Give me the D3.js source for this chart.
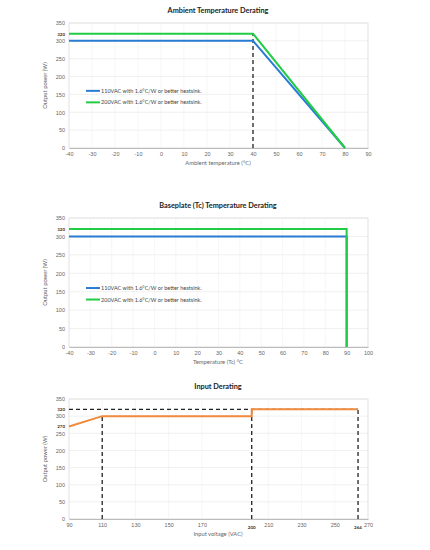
<!DOCTYPE html>
<html><head><meta charset="utf-8">
<script src="https://cdn.jsdelivr.net/npm/d3@7"></script>
<style>body{margin:0;background:#fff;font-family:Lato,"Open Sans",sans-serif}</style>
</head><body><svg id="c" width="430" height="550"></svg>
<script>
var yTicks = [0, 50, 100, 150, 200, 250, 300, 350];
var ambientX = [-40, 40, 80];
var ambient110 = [300, 300, 0];
var ambient200 = [320, 320, 0];
var ambientTicks = [-40, -30, -20, -10, 0, 10, 20, 30, 40, 50, 60, 70, 80, 90];
var baseX = [-40, 90, 90];
var base110 = [300, 300, 0];
var base200 = [320, 320, 0];
var baseTicks = [-40, -30, -20, -10, 0, 10, 20, 30, 40, 50, 60, 70, 80, 90, 100];
var inputX = [90, 110, 200, 200, 264];
var inputP = [270, 300, 300, 320, 320];
var inputTicks = [90, 110, 130, 150, 170, 190, 210, 230, 250, 270];
var legendLabels = ["110VAC with 1.6°C/W or better heatsink.", "200VAC with 1.6°C/W or better heatsink."];

var svg = d3.select("#c");
var blue = "#2a7bd4", green = "#22cc44", orange = "#f08a3c";

function chart(o) {
  var x = d3.scaleLinear().domain(o.xd).range([69, 368]);
  var y = d3.scaleLinear().domain([0, 350]).range([o.bottom, o.top]);
  var g = svg.append("g");
  g.append("text").attr("x", 218).attr("y", o.top - 10).attr("text-anchor", "middle")
    .attr("font-size", 7.3).attr("font-weight", "bold").attr("fill", "#222").text(o.title);
  g.selectAll(".hg").data(yTicks).enter().append("line")
    .attr("x1", 69).attr("x2", 368).attr("y1", y).attr("y2", y).attr("stroke", "#e6e6e6").attr("stroke-width", 0.6);
  g.selectAll(".vg").data(o.ticks).enter().append("line")
    .attr("x1", x).attr("x2", x).attr("y1", o.top).attr("y2", o.bottom).attr("stroke", "#f0f0f0").attr("stroke-width", 0.6);
  g.append("rect").attr("x", 69).attr("y", o.top).attr("width", 299).attr("height", o.bottom - o.top)
    .attr("fill", "none").attr("stroke", "#ddd").attr("stroke-width", 0.7);
  var ya = g.append("g").attr("transform", "translate(69,0)")
    .call(d3.axisLeft(y).tickValues(yTicks).tickSize(0).tickPadding(4).tickFormat(String));
  ya.select(".domain").remove();
  ya.selectAll("text").attr("font-size", 5.5).attr("fill", "#666");
  o.extraY.forEach(function(v) {
    g.append("text").attr("x", 65).attr("y", y(v) + 2).attr("text-anchor", "end")
      .attr("font-size", 4.5).attr("font-weight", "bold").attr("fill", "#333").text(v);
  });
  var xa = g.append("g").attr("transform", "translate(0," + o.bottom + ")")
    .call(d3.axisBottom(x).tickValues(o.ticks).tickSize(0).tickPadding(4).tickFormat(String));
  xa.select(".domain").attr("stroke", "#bbb");
  xa.selectAll("text").attr("font-size", 5.5).attr("fill", "#666");
  (o.extraX || []).forEach(function(v) {
    g.append("text").attr("x", x(v)).attr("y", o.bottom + 10).attr("text-anchor", "middle")
      .attr("font-size", 4.5).attr("font-weight", "bold").attr("fill", "#333").text(v);
  });
  g.append("text").attr("x", 218).attr("y", o.bottom + 17).attr("text-anchor", "middle")
    .attr("font-size", 5.8).attr("fill", "#666").text(o.xlabel);
  g.append("text").attr("transform", "translate(47," + (o.top + o.bottom) / 2 + ") rotate(-90)")
    .attr("text-anchor", "middle").attr("font-size", 5.8).attr("fill", "#666").text("Output power (W)");
  (o.dashes || []).forEach(function(d) {
    g.append("line").attr("x1", x(d[0])).attr("x2", x(d[2])).attr("y1", y(d[1])).attr("y2", y(d[3]))
      .attr("stroke", "#222").attr("stroke-width", 1.3).attr("stroke-dasharray", "4,3");
  });
  var line = d3.line().x(function(d){return x(d[0]);}).y(function(d){return y(d[1]);});
  o.series.forEach(function(s) {
    g.append("path").attr("d", line(d3.zip(s.x, s.v))).attr("fill", "none")
      .attr("stroke", s.c).attr("stroke-width", 2);
  });
  if (o.legend) {
    o.legend.forEach(function(s, i) {
      var ly = y(160) + i * 11.5;
      g.append("line").attr("x1", 86).attr("x2", 100).attr("y1", ly).attr("y2", ly).attr("stroke", s.c).attr("stroke-width", 2);
      g.append("text").attr("x", 101).attr("y", ly + 2).attr("font-size", 5.5).attr("fill", "#444").text(s.l);
    });
  }
}

chart({title: "Ambient Temperature Derating", xd: [-40, 90], ticks: ambientTicks, top: 23, bottom: 148,
  xlabel: "Ambient temperature (°C)", extraY: [320],
  dashes: [[40, 0, 40, 320]],
  series: [{x: ambientX, v: ambient110, c: blue}, {x: ambientX, v: ambient200, c: green}],
  legend: [{c: blue, l: legendLabels[0]}, {c: green, l: legendLabels[1]}]});

chart({title: "Baseplate (Tc) Temperature Derating", xd: [-40, 100], ticks: baseTicks, top: 218, bottom: 347,
  xlabel: "Temperature (Tc) °C", extraY: [320],
  series: [{x: baseX, v: base110, c: blue}, {x: baseX, v: base200, c: green}],
  legend: [{c: blue, l: legendLabels[0]}, {c: green, l: legendLabels[1]}]});

chart({title: "Input Derating", xd: [90, 270], ticks: inputTicks.filter(function(t){return t !== 190;}), top: 399, bottom: 519,
  xlabel: "Input voltage (VAC)", extraY: [320, 270], extraX: [200, 264],
  dashes: [[90, 320, 264, 320], [110, 0, 110, 300], [200, 0, 200, 320], [264, 0, 264, 320]],
  series: [{x: inputX, v: inputP, c: orange}]});
</script></body></html>
